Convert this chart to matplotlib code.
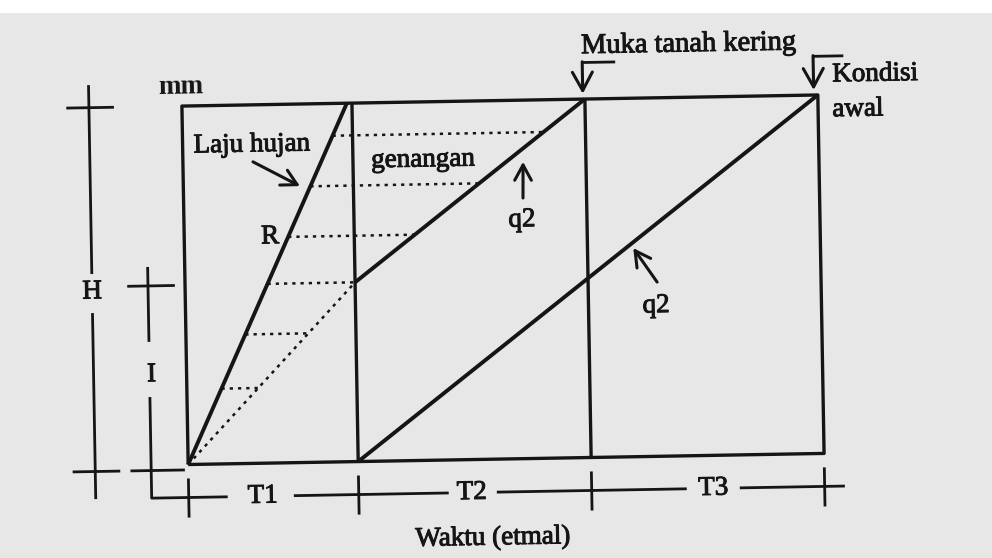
import numpy as np
import matplotlib
matplotlib.use('Agg')
import matplotlib.pyplot as plt
import matplotlib.patheffects as pe
from matplotlib.transforms import Affine2D
from matplotlib.patches import Rectangle

# diagram values
durations = [1.0, 1.37, 1.37]          # T1, T2, T3 (etmal)
time_labels = ['T1', 'T2', 'T3']
H_total = 100.0                         # H (mm)
I_depth = 50.0                          # I (mm)
t_rain_end = 0.97                       # rain line reaches H
ponding_levels = [21, 36, 50, 63, 77, 91]

ink = '#151515'
bg = '#e7e7e7'

bounds = np.concatenate([[0.0], np.cumsum(durations)])
t1, t2, t3 = bounds[1], bounds[2], bounds[3]

plt.rcParams['font.family'] = ['Liberation Serif', 'DejaVu Serif']

fig = plt.figure(figsize=(9.92, 5.58), dpi=100, facecolor=bg)
fig.patches.append(Rectangle((0, 1 - 13 / 558), 1, 13 / 558, transform=fig.transFigure,
                             facecolor='white', edgecolor='none', zorder=0))
ax = fig.add_axes([185 / 992, 99 / 558, 636 / 992, 358.5 / 558])
ax.set_xlim(0, t3)
ax.set_ylim(0, H_total)
ax.axis('off')

# the scan is turned about one degree
tr = ax.transData + Affine2D().rotate_deg_around(503, 278, 1.0)
thick = [pe.withStroke(linewidth=0.7, foreground=ink)]


def line(x, y, **kw):
    style = dict(color=ink, lw=2.4, solid_capstyle='butt', clip_on=False, transform=tr)
    style.update(kw)
    ax.plot(x, y, **style)


def label(x, y, s, **kw):
    style = dict(color=ink, fontsize=19.5, ha='center', va='center', transform=tr,
                 rotation=1.0, rotation_mode='anchor', clip_on=False, path_effects=thick)
    style.update(kw)
    ax.text(x, y, s, **style)


def arrow(tail, head, ms=20):
    ax.annotate('', xy=head, xytext=tail, xycoords=tr, textcoords=tr, annotation_clip=False,
                arrowprops=dict(arrowstyle='->,head_length=0.55,head_width=0.3', lw=2.2,
                                color=ink, mutation_scale=ms, shrinkA=0, shrinkB=0))


# frame and period boundaries
line([0, t3, t3, 0, 0], [0, 0, H_total, H_total, 0])
for b in bounds[1:3]:
    line([b, b], [0, H_total])

# rain, infiltration and drainage lines
line([0, t_rain_end], [0, H_total], lw=2.8)
line([0, t1], [0, I_depth], lw=1.8, linestyle=(0, (1.3, 2.0)))
line([t1, t2], [I_depth, H_total], lw=2.8)
line([t1, t3], [0, H_total], lw=2.8)

# ponding (dotted horizontals between rain line and infiltration / drainage)
for lev in ponding_levels:
    x0 = lev / H_total * t_rain_end
    if lev <= I_depth:
        x1 = lev / I_depth * t1
    else:
        x1 = t1 + (lev - I_depth) / (H_total - I_depth) * (t2 - t1)
    line([x0, x1], [lev, lev], lw=1.8, linestyle=(0, (1.3, 2.0)))

# H dimension
line([-0.547, -0.547], [106.3, 53.6], lw=2.0)
line([-0.547, -0.547], [42.7, -9.2], lw=2.0)
line([-0.68, -0.40], [H_total, H_total], lw=2.0)
line([-0.68, -0.40], [-1.5, -1.5], lw=2.0)
label(-0.547, 48.6, 'H')

# I dimension, continuing into the time axis
line([-0.218, -0.218], [55.3, 34.4], lw=2.0)
line([-0.218, -0.218, 0.229], [19.0, -9.2, -9.2], lw=2.0)
line([-0.34, -0.06], [I_depth, I_depth], lw=2.0)
line([-0.34, -0.02], [-1.5, -1.5], lw=2.0)
label(-0.206, 25.2, 'I')

# time dimension
for seg in ([0.618, 1.529], [1.812, 2.929], [3.241, 3.859]):
    line(seg, [-9.2, -9.2], lw=2.0)
for b in bounds:
    line([b, b], [-3.9, -14.8], lw=2.0)
for x, s in zip([0.435, 1.665, 3.085], time_labels):
    label(x, -9.2, s)
label(1.785, -22.0, 'Waktu (etmal)')

# labels inside
label(-0.004, 105.3, 'mm', fontweight='bold', path_effects=None)
label(0.408, 88.8, 'Laju hujan')
arrow((0.412, 84.1), (0.686, 77.1))
label(0.505, 63.1, 'R')
label(1.412, 83.8, 'genangan')
label(1.988, 66.6, 'q2')
arrow((1.996, 72.7), (2.0, 82.8))
label(2.768, 42.0, 'q2')
arrow((2.776, 48.6), (2.639, 58.2))

# top notes
label(2.985, 114.6, 'Muka tanah kering', fontsize=20.5)
line([2.552, t2 - 0.012], [110.2, 110.2], lw=2.0)
arrow((t2 - 0.012, 110.4), (t2 - 0.012, 101.5), ms=24)
label(3.827, 105.5, 'Kondisi', ha='left')
label(3.824, 95.8, 'awal', ha='left')
line([3.894, t3 - 0.024], [110.8, 110.8], lw=2.0)
arrow((t3 - 0.024, 111.0), (t3 - 0.024, 101.4), ms=24)

fig.savefig('out.png', dpi=100, facecolor=bg)
